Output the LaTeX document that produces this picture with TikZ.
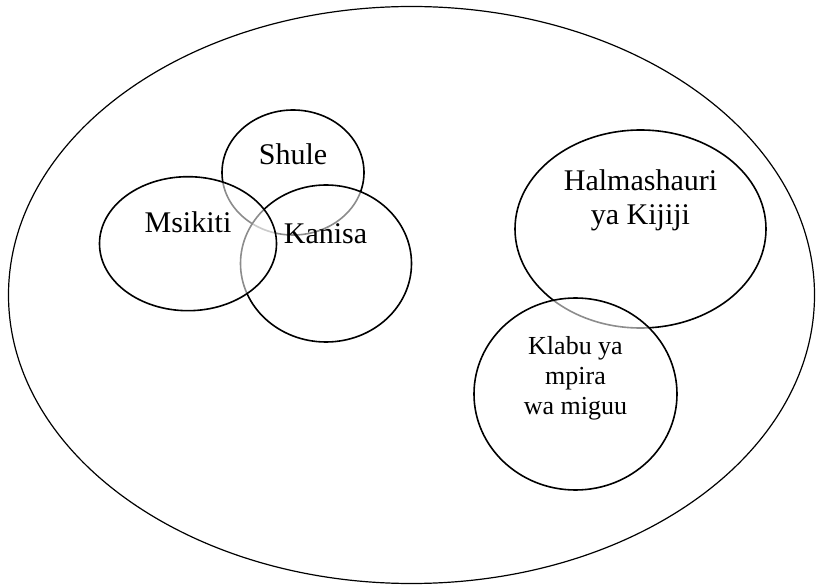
\documentclass[tikz,border=0pt]{standalone}
\usepackage{fontspec}
\setmainfont{Liberation Serif}
\usetikzlibrary{shapes.geometric}
\tikzset{
  ring/.style={ellipse, draw=black, line width=1.6pt, fill=white, fill opacity=0.55, inner sep=0pt},
  lbl/.style={font=\fontsize{30}{34}\selectfont, align=center, inner sep=0pt},
  slbl/.style={font=\fontsize{26}{30}\selectfont, align=center, inner sep=0pt}
}
\begin{document}
\begin{tikzpicture}[x=1pt,y=-1pt]
\useasboundingbox (0,0) rectangle (817,585);
\node[ellipse, draw=black, line width=1.2pt, inner sep=0pt, minimum width=806pt, minimum height=577pt] (village) at (411.5,295) {};
\node[ring, minimum width=142pt, minimum height=125pt] (shule) at (293,172.5) {};
\node[ring, minimum width=171pt, minimum height=157pt] (kanisa) at (326,263.5) {};
\node[ring, minimum width=177pt, minimum height=134pt] (msikiti) at (188,243.7) {};
\node[ring, minimum width=251pt, minimum height=198pt] (halmashauri) at (640.5,229) {};
\node[ring, minimum width=203pt, minimum height=192pt] (klabu) at (575.5,394) {};
\node[lbl] (tshule) at (293,154) {Shule};
\node[lbl] (tmsikiti) at (188,222) {Msikiti};
\node[lbl] (tkanisa) at (325.5,234) {Kanisa};
\node[lbl] (thalm) at (640.5,200) {Halmashauri\\ya Kijiji};
\node[slbl] (tklabu) at (575.5,378) {Klabu ya\\mpira\\wa miguu};
\end{tikzpicture}
\end{document}
